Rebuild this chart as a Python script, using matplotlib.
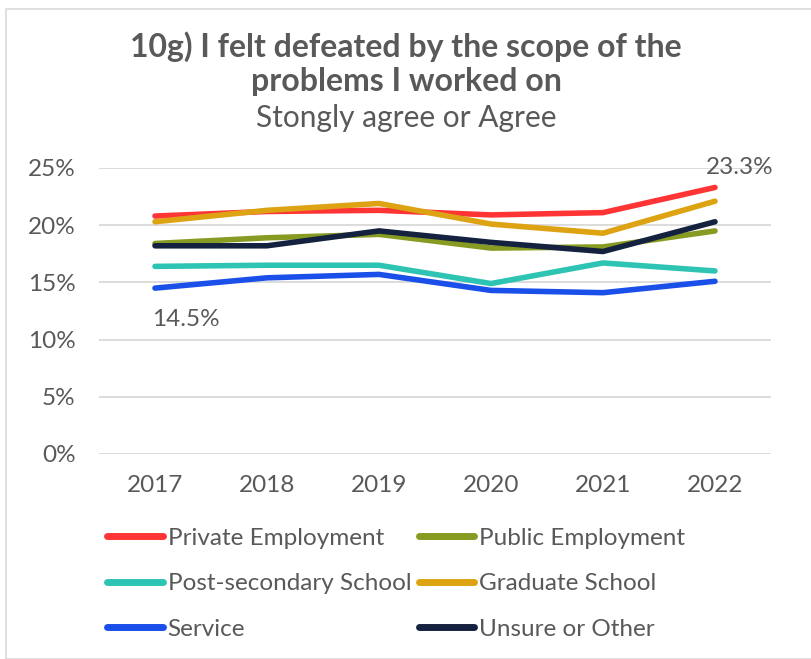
import matplotlib
matplotlib.use("Agg")
import matplotlib.pyplot as plt
from matplotlib.patches import Rectangle

years = ["2017", "2018", "2019", "2020", "2021", "2022"]
private_emp = [20.8, 21.2, 21.3, 20.9, 21.1, 23.3]
public_emp = [18.4, 18.9, 19.2, 18.0, 18.1, 19.5]
post_secondary = [16.4, 16.5, 16.5, 14.9, 16.7, 16.0]
graduate = [20.3, 21.3, 21.9, 20.1, 19.3, 22.1]
service = [14.5, 15.4, 15.7, 14.3, 14.1, 15.1]
unsure = [18.2, 18.2, 19.5, 18.5, 17.7, 20.3]

series = [
    ("Private Employment", private_emp, "#FF3535"),
    ("Public Employment", public_emp, "#879A22"),
    ("Post-secondary School", post_secondary, "#2EC4B4"),
    ("Graduate School", graduate, "#DDA313"),
    ("Service", service, "#1A4FEA"),
    ("Unsure or Other", unsure, "#14223F"),
]

plt.rcParams["font.family"] = ["Lato", "DejaVu Sans"]
text_color = "#595959"

fig = plt.figure(figsize=(8.12, 6.59), dpi=100)
ax = fig.add_axes([99 / 812, 1 - 454 / 659, 672 / 812, 286 / 659])

x = list(range(len(years)))
for name, vals, col in series:
    ax.plot(x, vals, color=col, lw=4, label=name, solid_capstyle="round")

ax.set_xlim(-0.5, len(years) - 0.5)
ax.set_ylim(0, 25)
ax.set_yticks([0, 5, 10, 15, 20, 25])
ax.set_yticklabels([f"{v}%" for v in [0, 5, 10, 15, 20, 25]])
ax.set_xticks(x)
ax.set_xticklabels(years)
ax.tick_params(axis="both", length=0, labelsize=17.5, colors=text_color)
ax.tick_params(axis="y", pad=17)
ax.tick_params(axis="x", pad=15)
ax.grid(axis="y", color="#D9D9D9", lw=1.3)
ax.set_axisbelow(True)
for s in ax.spines.values():
    s.set_visible(False)

ax.annotate(f"{private_emp[-1]:.1f}%", (x[-1], private_emp[-1]), xytext=(18, 7),
            textcoords="offset points", ha="center", va="bottom",
            fontsize=17.5, color=text_color)
ax.annotate(f"{service[0]:.1f}%", (x[0], service[0]), xytext=(22, -15),
            textcoords="offset points", ha="center", va="top",
            fontsize=17.5, color=text_color)

fig.text(0.5, 1 - 47 / 659, "10g) I felt defeated by the scope of the",
         ha="center", va="center", fontsize=23, fontweight="bold", color=text_color)
fig.text(0.5, 1 - 82 / 659, "problems I worked on",
         ha="center", va="center", fontsize=23, fontweight="bold", color=text_color)
fig.text(0.5, 1 - 118 / 659, "Stongly agree or Agree",
         ha="center", va="center", fontsize=21.5, color=text_color)

# legend entries run across rows: reorder for matplotlib's column-first fill
handles, labels = ax.get_legend_handles_labels()
order = [0, 2, 4, 1, 3, 5]
leg = fig.legend([handles[i] for i in order], [labels[i] for i in order],
                 ncol=2, loc="upper left",
                 bbox_to_anchor=(85 / 812, 1 - 506 / 659), frameon=False,
                 fontsize=17.5, handlelength=2.3, handletextpad=0.2,
                 columnspacing=0.3, labelspacing=1.0,
                 labelcolor=text_color)
for line in leg.get_lines():
    line.set_linewidth(5)

fig.patches.append(Rectangle((6 / 812, 0), 1 - 6 / 812, 1 - 9 / 659,
                             transform=fig.transFigure, fill=False,
                             edgecolor="#D9D9D9", lw=1.2))

fig.savefig("out.png", dpi=100)
